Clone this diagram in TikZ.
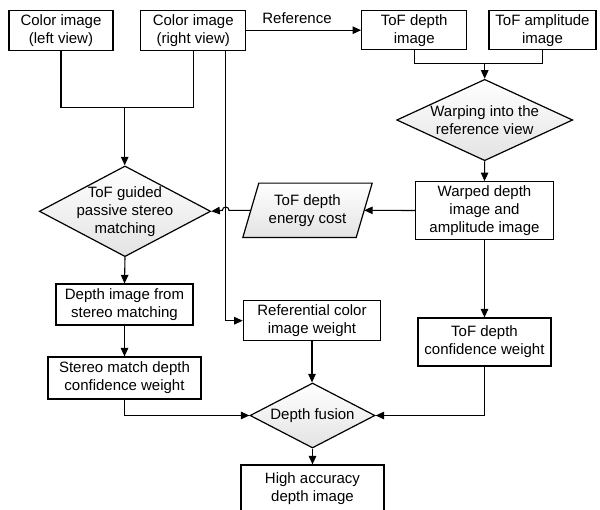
\documentclass[tikz,border=0pt]{standalone}
\usepackage{fontspec}
\setmainfont{Liberation Sans}
\usetikzlibrary{shapes.geometric,arrows.meta,backgrounds}
\begin{document}
\begin{tikzpicture}[x=1pt,y=-1pt,
  every node/.style={font=\fontsize{15}{18}\selectfont, align=center, inner sep=0pt},
  box/.style={draw, line width=1.2pt, rectangle},
  shadefill/.style={top color=white, bottom color=black!11},
  dia/.style={draw, line width=1.2pt, diamond, shadefill},
  conn/.style={line width=1.1pt},
  arr/.style={line width=1.1pt, -{Triangle[length=8.5pt,width=7.5pt]}}]
\useasboundingbox (0,0) rectangle (600,509);
\clip (0,0) rectangle (600,509);

% top row
\node[box, minimum width=104pt, minimum height=40pt] (cl) at (61,30.7) {Color image\\(left view)};
\node[box, minimum width=105pt, minimum height=40pt] (cr) at (193.2,30.7) {Color image\\(right view)};
\node[box, minimum width=105pt, minimum height=39pt] (td) at (414.2,30.2) {ToF depth\\image};
\node[box, minimum width=107pt, minimum height=39pt] (ta) at (542.5,30.2) {ToF amplitude\\image};
\node (ref) at (297,18.5) {Reference};

% right column
\node[dia, minimum width=176pt, minimum height=81.4pt,
  label={[align=center]center:Warping into the\\reference view}] (warp) at (484.7,120) {};
\node[box, minimum width=137.6pt, minimum height=57.6pt] (wd) at (484.5,210.5) {Warped depth\\image and\\amplitude image};
\node[box, minimum width=133pt, minimum height=48pt] (tcw) at (484.5,342) {ToF depth\\confidence weight};

% parallelogram
\node[minimum width=129pt, minimum height=54pt] (cost) at (307.5,210.3) {ToF depth\\energy cost};
\begin{scope}[on background layer]
\shade[draw, line width=1.2pt, shadefill] ([xshift=16pt]cost.north west) -- (cost.north east)
  -- ([xshift=-16pt]cost.south east) -- (cost.south west) -- cycle;
\end{scope}

% left column
\node[dia, minimum width=171.4pt, minimum height=90.7pt,
  label={[align=center]center:ToF guided\\passive stereo\\matching}] (sd) at (125,211.3) {};
\node[box, minimum width=137pt, minimum height=41pt] (dsm) at (124.5,304.5) {Depth image from\\stereo matching};
\node[box, minimum width=153pt, minimum height=42pt] (smw) at (124.5,378) {Stereo match depth\\confidence weight};

% middle
\node[box, minimum width=137.4pt, minimum height=40pt] (rcw) at (312,320.7) {Referential color\\image weight};
\node[dia, minimum width=125pt, minimum height=65pt,
  label={center:Depth fusion}] (fus) at (312.5,415.5) {};
\node[box, minimum width=143pt, minimum height=48pt] (hai) at (312.5,489) {High accuracy\\depth image};

% connectors
\coordinate (j1) at (124.7,107.7);
\draw[conn] (cl.south) |- (j1) -| (cr.south);
\draw[arr] (j1) -- (j1 |- sd.north);
\draw[arr] ([xshift=32.5pt]cr.south) |- (rcw.west);
\draw[arr] (cr.east |- td.west) -- (td.west);

\coordinate (j2) at (484.7,63.3);
\draw[conn] (td.south) |- (j2) -| (ta.south);
\draw[arr] (j2) -- (warp.north);
\draw[arr] (warp.south) -- (wd.north);
\draw[arr] (wd.west) -- ([xshift=-8pt]cost.east);
\draw[arr] ([xshift=8pt]cost.west) -- (229,210.3 |- cost.west)
  arc[start angle=0, end angle=180, radius=3.3pt] -- (sd.east);
\draw[arr] (wd.south) -- (tcw.north);

\draw[arr] (sd.south) -- (dsm.north);
\draw[arr] (dsm.south) -- (smw.north);
\draw[arr] (smw.south) |- (fus.west);
\draw[arr] (tcw.south) |- (fus.east);
\draw[arr] (rcw.south) -- (rcw.south |- fus.north);
\draw[arr] (fus.south) -- (hai.north);
\end{tikzpicture}
\end{document}
